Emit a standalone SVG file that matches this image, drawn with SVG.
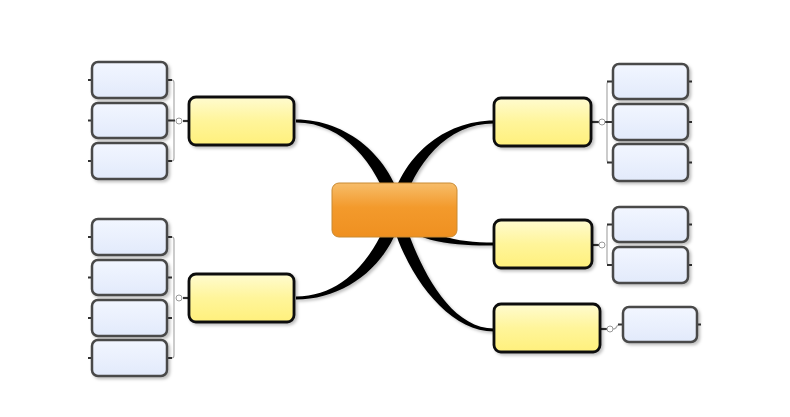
<svg xmlns="http://www.w3.org/2000/svg" width="790" height="417" viewBox="0 0 790 417">
<defs>
<linearGradient id="gy" x1="0" y1="0" x2="0" y2="1"><stop offset="0" stop-color="#fffbd0"/><stop offset="0.5" stop-color="#fff59a"/><stop offset="1" stop-color="#fff07c"/></linearGradient>
<linearGradient id="gb" x1="0" y1="0" x2="0" y2="1"><stop offset="0" stop-color="#f2f6ff"/><stop offset="1" stop-color="#e2eafb"/></linearGradient>
<linearGradient id="go" x1="0" y1="0" x2="0" y2="1"><stop offset="0" stop-color="#f7bd6a"/><stop offset="0.45" stop-color="#f39a2c"/><stop offset="1" stop-color="#ef9020"/></linearGradient>
<filter id="sh" x="-10%" y="-10%" width="130%" height="140%"><feDropShadow dx="2" dy="2" stdDeviation="1.5" flood-color="#000" flood-opacity="0.25"/></filter>
</defs>
<style>
.main{fill:#000;filter:url(#sh)}
.yel{fill:url(#gy);stroke:#111;stroke-width:2.8;filter:url(#sh)}
.blu{fill:url(#gb);stroke:#4a4a4a;stroke-width:2.5;filter:url(#sh)}
.stub{stroke:#333;stroke-width:2.2;fill:none}
.brk{stroke:#aaa;stroke-width:1.2;fill:none}
.knob{fill:#fff;stroke:#999;stroke-width:1}
</style>
<rect width="790" height="417" fill="#fff"/>
<g id="connectors">
<path class="main" d="M296,119.5 C346,119.5 392,156 403,210 L391,210 C376,164 344,122.5 296,122.5 Z"/>
<path class="main" d="M296,296.5 C344,296.5 376,256 391,210 L403,210 C392,264 346,299.5 296,299.5 Z"/>
<path class="main" d="M494,120.5 C444,120.5 401,156 389,210 L401,210 C415,164 446,123.5 494,123.5 Z"/>
<path class="main" d="M494,331.5 C444,331.5 401,266 389,210 L401,210 C415,258 446,328.5 494,328.5 Z"/>
<path class="main" d="M494,242.5 C455,242.5 425,236 403,208 L393,216 C415,244 455,245.5 494,245.5 Z"/>
<!-- left top group -->
<path class="stub" d="M183,121 H189"/>
<path class="brk" d="M172,80 Q174,80 174,83 V158 Q174,161 172,161"/>
<path class="stub" d="M167,80 H172 M167,120.5 H175 M167,161 H172 M88,80 H92 M88,120.5 H92 M88,161 H92"/>
<circle class="knob" cx="179" cy="121" r="3"/>
<!-- left bottom group -->
<path class="stub" d="M183,298 H189"/>
<path class="brk" d="M172,237 Q174,237 174,240 V355 Q174,358 172,358"/>
<path class="stub" d="M167,237 H172 M167,277.5 H172 M167,318 H172 M167,358 H172 M88,237 H92 M88,277.5 H92 M88,318 H92 M88,358 H92"/>
<circle class="knob" cx="179" cy="298" r="3"/>
<!-- right top group -->
<path class="stub" d="M591,122 H599"/>
<path class="brk" d="M609,81.5 Q607,81.5 607,84.5 V159.5 Q607,162.5 609,162.5"/>
<path class="stub" d="M607,81.5 H613 M605,122 H613 M607,162.5 H613 M688,81.5 H692 M688,122 H692 M688,162.5 H692"/>
<circle class="knob" cx="602" cy="122" r="3"/>
<!-- right middle group -->
<path class="stub" d="M592,245 H599"/>
<path class="brk" d="M609,224.5 Q607,224.5 607,227.5 V262 Q607,265 609,265"/>
<path class="stub" d="M607,224.5 H613 M607,265 H613 M688,224.5 H692 M688,265 H692"/>
<circle class="knob" cx="602" cy="245" r="3"/>
<!-- right bottom group -->
<path class="stub" d="M600,329 H607"/>
<path class="brk" d="M613,329 Q616,329 617,326 Q618,324.5 620,324.5"/>
<path class="stub" d="M618,324.5 H623 M697,324.5 H701"/>
<circle class="knob" cx="610" cy="329" r="3"/>
</g>
<g id="center"><rect x="332" y="183" width="125" height="54" rx="7" fill="url(#go)" stroke="#c98a33" stroke-width="1"/></g>
<g id="t1"><rect class="yel" x="189" y="97" width="105" height="48" rx="7"/></g>
<g id="t2"><rect class="yel" x="189" y="274" width="105" height="48" rx="7"/></g>
<g id="t3"><rect class="yel" x="494" y="98" width="97" height="48" rx="7"/></g>
<g id="t4"><rect class="yel" x="494" y="220" width="98" height="48" rx="7"/></g>
<g id="t5"><rect class="yel" x="494" y="304" width="106" height="48" rx="7"/></g>
<g id="l1"><rect class="blu" x="92" y="62" width="75" height="36" rx="6"/></g>
<g id="l2"><rect class="blu" x="92" y="103" width="75" height="35" rx="6"/></g>
<g id="l3"><rect class="blu" x="92" y="143" width="75" height="36" rx="6"/></g>
<g id="l4"><rect class="blu" x="92" y="219" width="75" height="36" rx="6"/></g>
<g id="l5"><rect class="blu" x="92" y="260" width="75" height="35" rx="6"/></g>
<g id="l6"><rect class="blu" x="92" y="300" width="75" height="36" rx="6"/></g>
<g id="l7"><rect class="blu" x="92" y="340" width="75" height="36" rx="6"/></g>
<g id="r1"><rect class="blu" x="613" y="64" width="75" height="35" rx="6"/></g>
<g id="r2"><rect class="blu" x="613" y="104" width="75" height="36" rx="6"/></g>
<g id="r3"><rect class="blu" x="613" y="144" width="75" height="37" rx="6"/></g>
<g id="r4"><rect class="blu" x="613" y="207" width="75" height="35" rx="6"/></g>
<g id="r5"><rect class="blu" x="613" y="247" width="75" height="36" rx="6"/></g>
<g id="r6"><rect class="blu" x="623" y="307" width="74" height="35" rx="6"/></g>
</svg>
